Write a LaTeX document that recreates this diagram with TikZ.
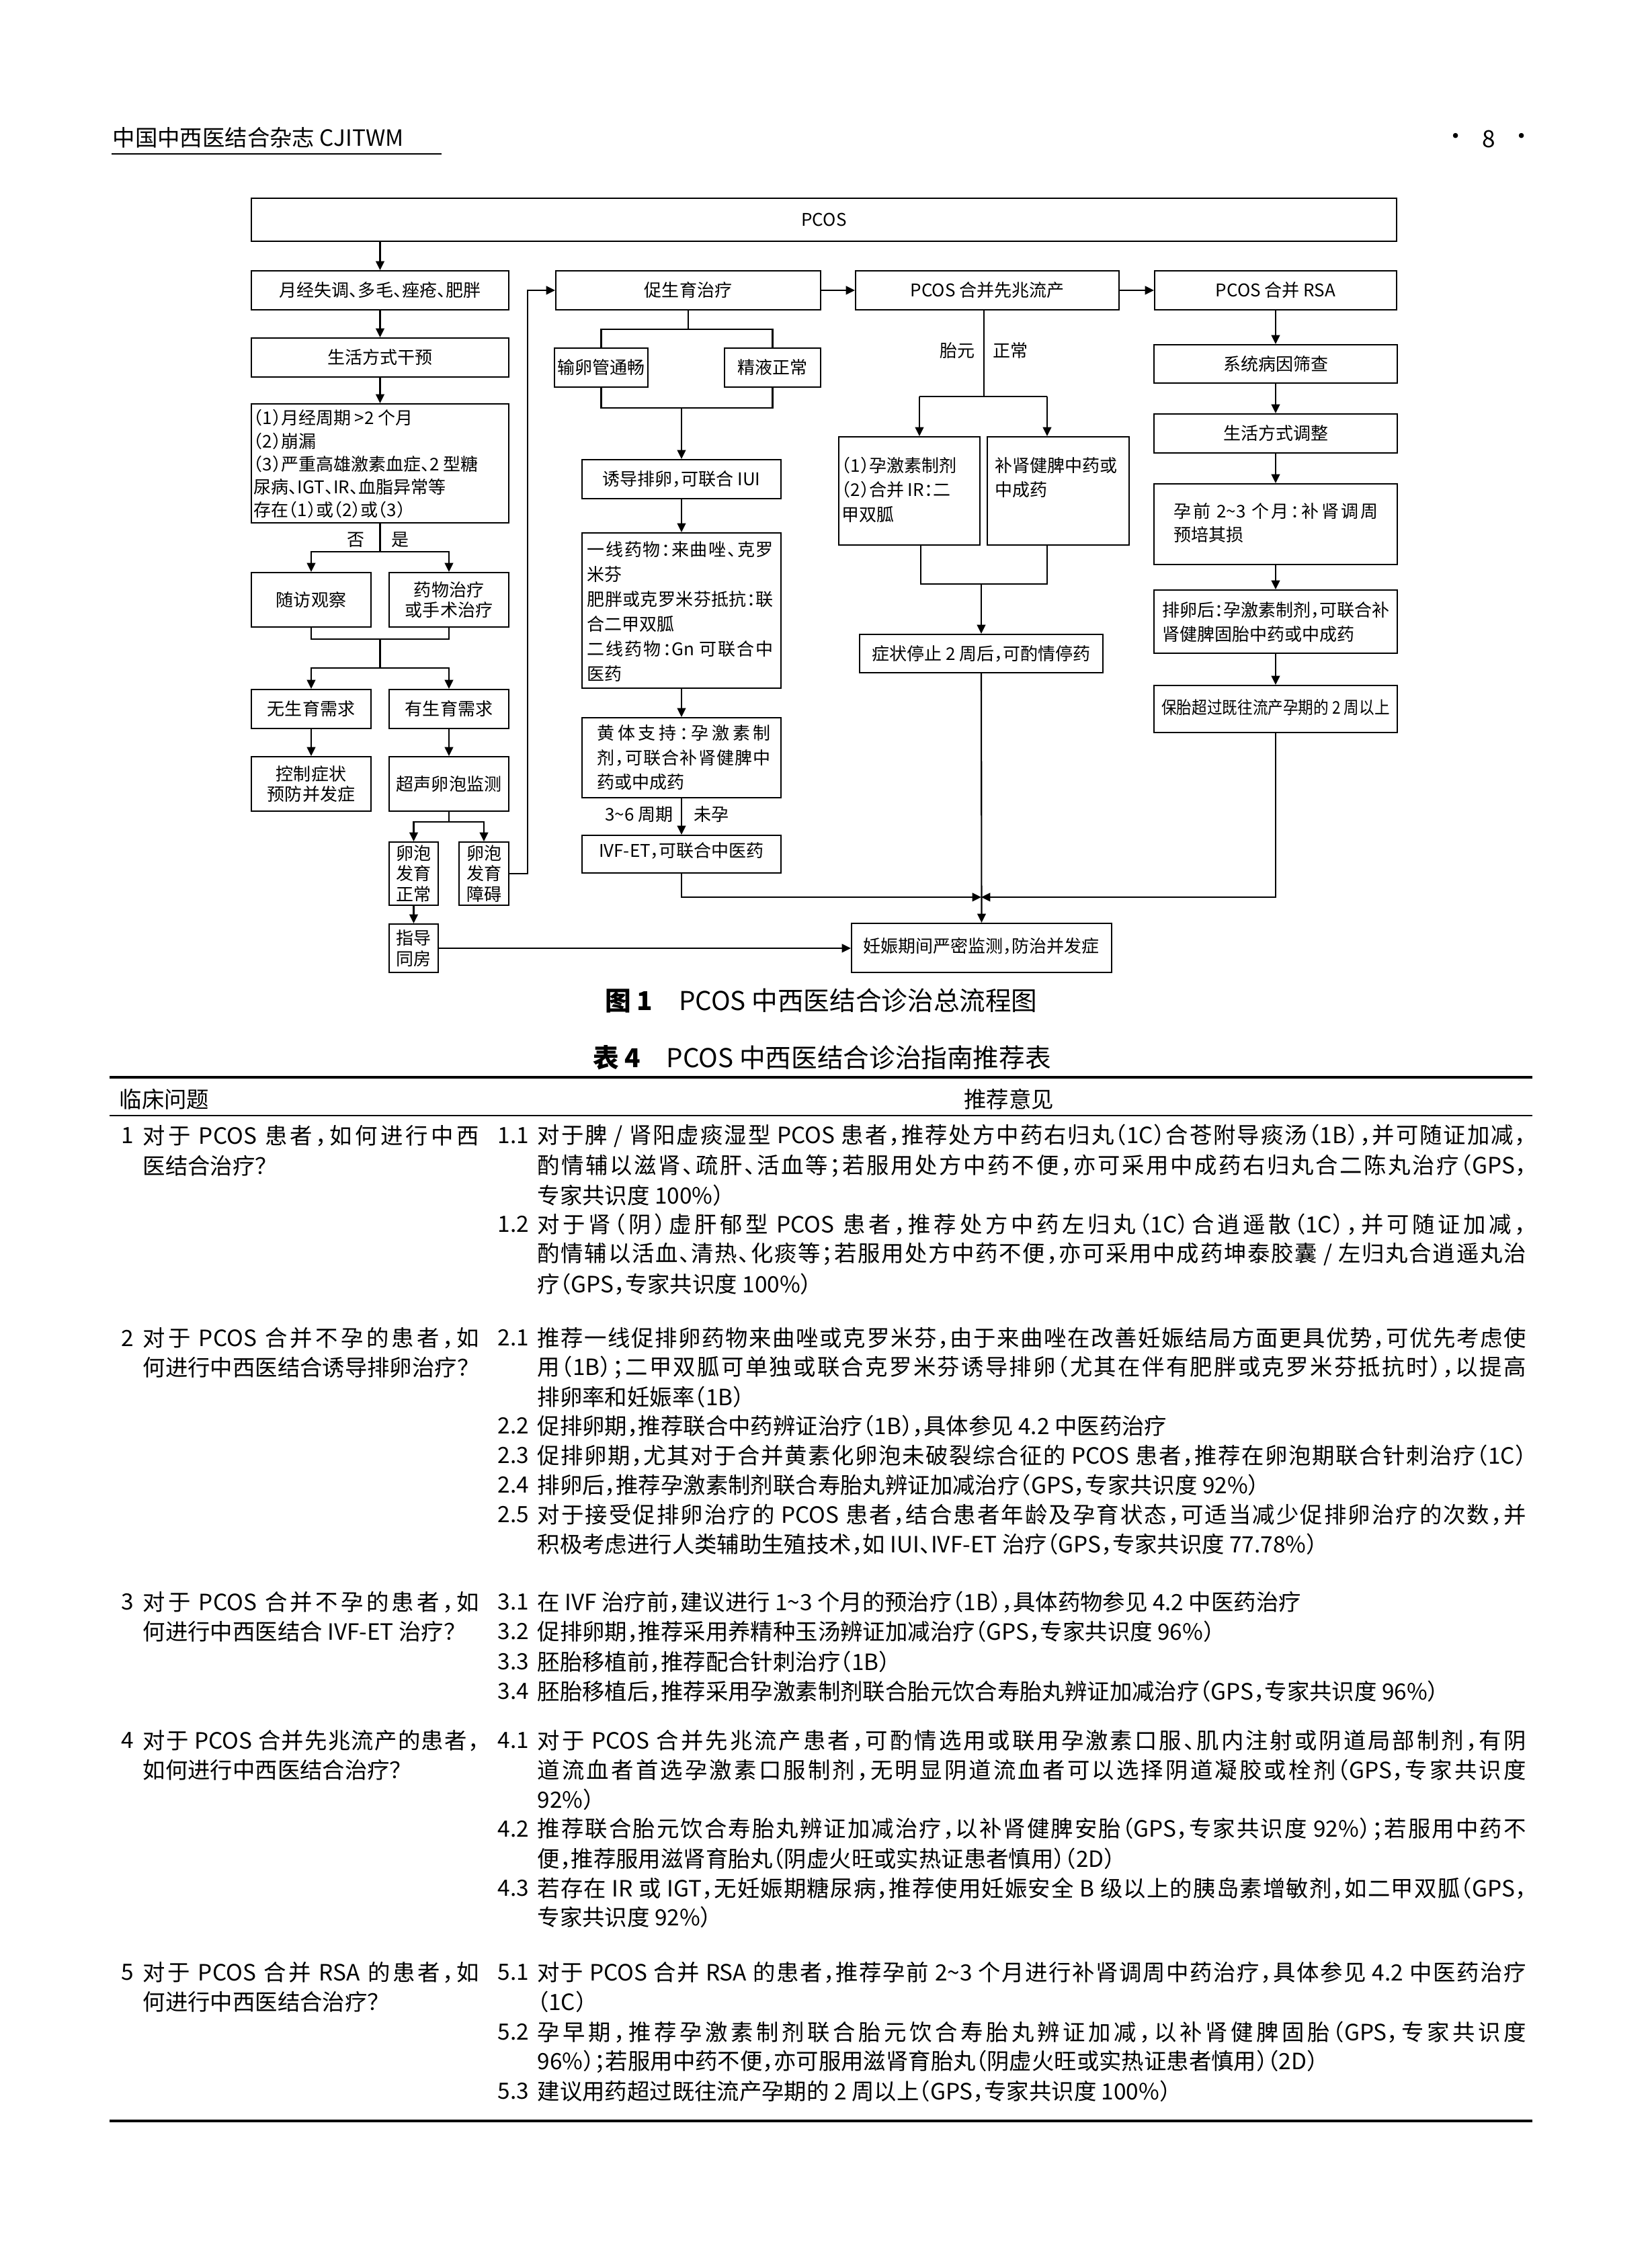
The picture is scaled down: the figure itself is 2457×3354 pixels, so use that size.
\documentclass[tikz,border=0pt]{standalone}
\usepackage{fontspec}
\usepackage{graphicx}
\setmainfont{Noto Sans CJK SC}[RawFeature=+halt]
\usetikzlibrary{arrows.meta}
% inter-character glue between CJK characters (for justified lines)
\ifdefined\newXeTeXintercharclass \newXeTeXintercharclass\cjkcls \else \chardef\cjkcls=7 \fi
\newcount\cjkcc
\def\setcjkrange#1#2{\cjkcc=#1 \loop \XeTeXcharclass\cjkcc=\cjkcls \ifnum\cjkcc<#2 \advance\cjkcc by 1 \repeat}
\setcjkrange{"4E00}{"9FFF}
\setcjkrange{"3000}{"303F}
\setcjkrange{"FF01}{"FF60}
\XeTeXinterchartoks\cjkcls\cjkcls={\hskip 0pt plus 1pt\relax}
\XeTeXinterchartokenstate=1
\newcommand\ffn{\fontsize{7.4pt}{8.7pt}\selectfont}
\newcommand\ffs[1]{\fontsize{7.4pt}{#1pt}\selectfont}
\newcommand\tfn{\fontsize{9.5pt}{12pt}\selectfont}
\newcommand\JW[1]{\makebox[147.1mm][s]{#1}}
\newcommand\JQ[1]{\makebox[50mm][s]{#1}}
\newcommand\JB[2]{\makebox[#1][s]{#2}}
\newcommand\tl{\textasciitilde}
\tikzset{
  box/.style={draw=black, line width=0.6pt, inner sep=0pt, align=center, font=\ffn},
  ln/.style={draw=black, line width=0.6pt},
  arr/.style={ln, -{Triangle[length=3.8pt,width=3.6pt]}},
  tx/.style={inner sep=0pt, font=\ffn},
  tt/.style={inner sep=0pt, anchor=west, font=\tfn},
}
\newcommand\B[6]{\node[box,minimum width={(#4-#2)*0.1mm},minimum height={(#5-#3)*0.1mm}] (#1) at ({(#2+#4)/2},{(#3+#5)/2}) {#6};}
\begin{document}
\begin{tikzpicture}[x=0.1mm,y=-0.1mm]
\fill[white] (0,0) rectangle (2457,3354);
\useasboundingbox (0,0) rectangle (2457,3354);

% ---------- page header ----------
\node[anchor=west,inner sep=0pt,font=\fontsize{9.5pt}{11pt}\selectfont] (hdr) at (167,205) {中国中西医结合杂志 CJITWM};
\draw[line width=0.5pt] (166,229) -- (657,229);
\node[inner sep=0pt,font=\fontsize{10pt}{12pt}\selectfont] (pd1) at (2166,207) {·};
\node[inner sep=0pt,font=\fontsize{10pt}{12pt}\selectfont] (pno) at (2215,207) {8};
\node[inner sep=0pt,font=\fontsize{10pt}{12pt}\selectfont] (pd2) at (2264,207) {·};

% ---------- flowchart boxes ----------
\B{pcos}{374}{295}{2078}{359}{PCOS}
\B{m1}{374}{403}{757}{461}{月经失调、多毛、痤疮、肥胖}
\B{m2}{374}{503}{757}{561}{生活方式干预}
\B{cond}{374}{601}{757}{778}{}
\B{sf}{374}{852}{552}{933}{随访观察}
\B{yw}{579}{852}{757}{933}{药物治疗\\或手术治疗}
\B{wu}{374}{1026}{552}{1084}{无生育需求}
\B{you}{579}{1026}{757}{1084}{有生育需求}
\B{kz}{374}{1126}{552}{1207}{控制症状\\预防并发症}
\B{cs}{579}{1126}{757}{1207}{超声卵泡监测}
\B{zc}{579}{1253}{652}{1347}{卵泡\\发育\\正常}
\B{za}{683}{1253}{757}{1347}{卵泡\\发育\\障碍}
\B{zd}{579}{1375}{652}{1447}{指导\\同房}
\B{cy}{827}{403}{1221}{461}{促生育治疗}
\B{sl}{825}{518}{964}{576}{输卵管通畅}
\B{jy}{1078}{518}{1221}{576}{精液正常}
\B{yd}{866}{684}{1162}{742}{诱导排卵，可联合 IUI}
\B{yx}{866}{793}{1162}{1024}{}
\B{ht}{866}{1068}{1162}{1187}{}
\B{ivf}{866}{1243}{1162}{1299}{}
\B{xz}{1273}{403}{1665}{461}{PCOS 合并先兆流产}
\B{rsa}{1718}{403}{2078}{461}{PCOS 合并 RSA}
\B{p1}{1248}{650}{1458}{811}{}
\B{p2}{1469}{650}{1680}{811}{}
\B{zz}{1279}{944}{1641}{1001}{症状停止 2 周后，可酌情停药}
\B{r1}{1717}{513}{2079}{570}{系统病因筛查}
\B{r2}{1717}{616}{2079}{674}{生活方式调整}
\B{r3}{1717}{720}{2079}{840}{}
\B{r4}{1717}{878}{2079}{972}{}
\B{r5}{1717}{1020}{2079}{1090}{}
\B{rs}{1267}{1374}{1654}{1447}{}

% ---------- texts placed inside boxes ----------
\node[tx,anchor=west,align=left,font=\ffs{9.76}] (tcond) at (377,690.5) {（1）月经周期 >2 个月\\（2）崩漏\\（3）严重高雄激素血症、2 型糖\\尿病、IGT、IR、血脂异常等\\存在（1）或（2）或（3）};
\node[tx,anchor=west,align=left,font=\ffs{10.53}] (tyx) at (873,910) {\JB{27.7mm}{一线药物：来曲唑、克罗}\\米芬\\\JB{27.7mm}{肥胖或克罗米芬抵抗：联}\\合二甲双胍\\\JB{27.7mm}{二线药物：Gn 可联合中}\\医药};
\node[tx,anchor=west,align=left,font=\ffs{10.4}] (tht) at (888,1127.5) {\JB{25.8mm}{黄体支持：孕激素制}\\\JB{25.8mm}{剂，可联合补肾健脾中}\\药或中成药};
\node[tx] (tivf) at (1014,1266) {IVF-ET，可联合中医药};
\node[tx,anchor=west,align=left,font=\ffs{10.4}] (tp1) at (1252,728.5) {（1）孕激素制剂\\（2）合并 IR：二\\甲双胍};
\node[tx,anchor=west,align=left,font=\ffs{10.4}] (tp2) at (1480,710.5) {补肾健脾中药或\\中成药};
\node[tx,anchor=west,align=left,font=\ffs{9.96}] (tr3) at (1746,778.5) {\JB{30.4mm}{孕前 2\tl 3 个月：补肾调周}\\预培其损};
\node[tx,anchor=west,align=left,font=\ffs{10.25}] (tr4) at (1729,926) {\JB{33.6mm}{排卵后：孕激素制剂，可联合补}\\肾健脾固胎中药或中成药};
\node[tx] (tr5) at (1898,1053) {\scalebox{0.87}[1]{保胎超过既往流产孕期的 2 周以上}};
\node[tx] (trs) at (1460,1408) {妊娠期间严密监测，防治并发症};

% ---------- connectors: left column ----------
\draw[arr] (pcos.south -| m1.north) -- (m1.north);
\draw[arr] (m1.south) -- (m2.north);
\draw[arr] (m2.south) -- (cond.north);
\coordinate (j1) at (565.5,821);
\draw[ln] (cond.south) -- (j1);
\draw[arr] (j1) -| (sf.north);
\draw[arr] (j1) -| (yw.north);
\node[tx,anchor=east] (lno) at (543,803) {否};
\node[tx,anchor=west] (lyes) at (582,803) {是};
\coordinate (j2) at (565.5,951);
\coordinate (j3) at (565.5,994);
\draw[ln] (sf.south) |- (j2) -| (yw.south);
\draw[ln] (j2) -- (j3);
\draw[arr] (j3) -| (wu.north);
\draw[arr] (j3) -| (you.north);
\draw[arr] (wu.south) -- (kz.north);
\draw[arr] (you.south) -- (cs.north);
\coordinate (j4) at (668,1223);
\draw[ln] (cs.south) -- (j4);
\draw[arr] (j4) -| (zc.north);
\draw[arr] (j4) -| (za.north);
\draw[arr] (zc.south) -- (zd.north);
\coordinate (j5) at (785,1300);
\draw[arr] (za.east) -- (j5) |- (cy.west);
\draw[arr] (zd.east) -- (zd.east -| rs.west);

% ---------- connectors: fertility column ----------
\coordinate (j6) at (1024,490);
\draw[ln] (cy.south) -- (j6);
\draw[ln] (j6) -| (sl.north);
\draw[ln] (j6) -| (jy.north);
\coordinate (j7) at (1014,607);
\draw[ln] (sl.south) |- (j7) -| (jy.south);
\draw[arr] (j7) -- (yd.north);
\draw[arr] (yd.south) -- (yx.north);
\draw[arr] (yx.south) -- (ht.north);
\draw[arr] (ht.south) -- (ivf.north);
\node[tx,anchor=east] (l36) at (1002,1212) {3\tl 6 周期};
\node[tx,anchor=west] (lwy) at (1032,1212) {未孕};
\coordinate (mg) at (1460,1335);
\draw[arr] (ivf.south) |- (mg);

% ---------- top row arrows ----------
\draw[arr] (cy.east) -- (xz.west);
\draw[arr] (xz.east) -- (rsa.west);

% ---------- threatened abortion column ----------
\coordinate (j8) at (1464,590);
\draw[ln] (j8 |- xz.south) -- (j8);
\node[tx,anchor=east] (lty) at (1451,522) {胎元};
\node[tx,anchor=west] (lzc) at (1477,522) {正常};
\coordinate (jL) at (1368,590);
\coordinate (jR) at (1558,590);
\draw[ln] (jL) -- (jR);
\draw[arr] (jL) -- (jL |- p1.north);
\draw[arr] (jR) -- (jR |- p2.north);
\coordinate (kL) at (1370,869);
\coordinate (kR) at (1558,869);
\coordinate (kM) at (1460,869);
\draw[ln] (kL |- p1.south) -- (kL) -- (kR) -- (kR |- p2.south);
\draw[arr] (kM) -- (zz.north);
\draw[arr] (zz.south) -- (rs.north);

% ---------- RSA column ----------
\draw[arr] (rsa.south) -- (r1.north);
\draw[arr] (r1.south) -- (r2.north);
\draw[arr] (r2.south) -- (r3.north);
\draw[arr] (r3.south) -- (r4.north);
\draw[arr] (r4.south) -- (r5.north);
\draw[arr] (r5.south) |- (mg);

% ---------- captions ----------
\node[inner sep=0pt,font=\fontsize{11pt}{13pt}\selectfont] (cap1) at (1222,1489) {{\bfseries 图 1}\quad PCOS 中西医结合诊治总流程图};
\node[inner sep=0pt,font=\fontsize{11pt}{13pt}\selectfont] (cap2) at (1223,1574) {{\bfseries 表 4}\quad PCOS 中西医结合诊治指南推荐表};

% ---------- table ----------
\draw[line width=1pt] (163,1603) -- (2280,1603);
\draw[line width=0.5pt] (163,1660) -- (2280,1660);
\draw[line width=1pt] (163,3156) -- (2280,3156);
\node[tt] (h1) at (177,1636) {临床问题};
\node[tt,anchor=center] (h2) at (1501,1636) {推荐意见};

% row 1
\node[tt] at (180,1690) {1};
\node[tt] at (212,1690) {\JQ{对于 PCOS 患者，如何进行中西}};
\node[tt] at (212,1735) {医结合治疗？};
\node[tt] at (740,1690) {1.1};
\node[tt] at (799,1690) {\JW{对于脾 / 肾阳虚痰湿型 PCOS 患者，推荐处方中药右归丸（1C）合苍附导痰汤（1B），并可随证加减，}};
\node[tt] at (799,1735) {\JW{酌情辅以滋肾、疏肝、活血等；若服用处方中药不便，亦可采用中成药右归丸合二陈丸治疗（GPS，}};
\node[tt] at (799,1779) {专家共识度 100\%）};
\node[tt] at (740,1822) {1.2};
\node[tt] at (799,1822) {\JW{对于肾（阴）虚肝郁型 PCOS 患者，推荐处方中药左归丸（1C）合逍遥散（1C），并可随证加减，}};
\node[tt] at (799,1866) {\JW{酌情辅以活血、清热、化痰等；若服用处方中药不便，亦可采用中成药坤泰胶囊 / 左归丸合逍遥丸治}};
\node[tt] at (799,1911) {疗（GPS，专家共识度 100\%）};

% row 2
\node[tt] at (180,1991) {2};
\node[tt] at (212,1991) {\JQ{对于 PCOS 合并不孕的患者，如}};
\node[tt] at (212,2035) {何进行中西医结合诱导排卵治疗？};
\node[tt] at (740,1991) {2.1};
\node[tt] at (799,1991) {\JW{推荐一线促排卵药物来曲唑或克罗米芬，由于来曲唑在改善妊娠结局方面更具优势，可优先考虑使}};
\node[tt] at (799,2035) {\JW{用（1B）；二甲双胍可单独或联合克罗米芬诱导排卵（尤其在伴有肥胖或克罗米芬抵抗时），以提高}};
\node[tt] at (799,2079) {排卵率和妊娠率（1B）};
\node[tt] at (740,2122) {2.2};
\node[tt] at (799,2122) {促排卵期，推荐联合中药辨证治疗（1B），具体参见 4.2 中医药治疗};
\node[tt] at (740,2166) {2.3};
\node[tt] at (799,2166) {\JW{促排卵期，尤其对于合并黄素化卵泡未破裂综合征的 PCOS 患者，推荐在卵泡期联合针刺治疗（1C）}};
\node[tt] at (740,2210) {2.4};
\node[tt] at (799,2210) {排卵后，推荐孕激素制剂联合寿胎丸辨证加减治疗（GPS，专家共识度 92\%）};
\node[tt] at (740,2254) {2.5};
\node[tt] at (799,2254) {\JW{对于接受促排卵治疗的 PCOS 患者，结合患者年龄及孕育状态，可适当减少促排卵治疗的次数，并}};
\node[tt] at (799,2298) {积极考虑进行人类辅助生殖技术，如 IUI、IVF-ET 治疗（GPS，专家共识度 77.78\%）};

% row 3
\node[tt] at (180,2384) {3};
\node[tt] at (212,2384) {\JQ{对于 PCOS 合并不孕的患者，如}};
\node[tt] at (212,2428) {何进行中西医结合 IVF-ET 治疗？};
\node[tt] at (740,2384) {3.1};
\node[tt] at (799,2384) {在 IVF 治疗前，建议进行 1\tl 3 个月的预治疗（1B），具体药物参见 4.2 中医药治疗};
\node[tt] at (740,2428) {3.2};
\node[tt] at (799,2428) {促排卵期，推荐采用养精种玉汤辨证加减治疗（GPS，专家共识度 96\%）};
\node[tt] at (740,2473) {3.3};
\node[tt] at (799,2473) {胚胎移植前，推荐配合针刺治疗（1B）};
\node[tt] at (740,2517) {3.4};
\node[tt] at (799,2517) {胚胎移植后，推荐采用孕激素制剂联合胎元饮合寿胎丸辨证加减治疗（GPS，专家共识度 96\%）};

% row 4
\node[tt] at (180,2590) {4};
\node[tt] at (212,2590) {\JQ{对于 PCOS 合并先兆流产的患者，}};
\node[tt] at (212,2634) {如何进行中西医结合治疗？};
\node[tt] at (740,2590) {4.1};
\node[tt] at (799,2590) {\JW{对于 PCOS 合并先兆流产患者，可酌情选用或联用孕激素口服、肌内注射或阴道局部制剂，有阴}};
\node[tt] at (799,2634) {\JW{道流血者首选孕激素口服制剂，无明显阴道流血者可以选择阴道凝胶或栓剂（GPS，专家共识度}};
\node[tt] at (799,2678) {92\%）};
\node[tt] at (740,2722) {4.2};
\node[tt] at (799,2722) {\JW{推荐联合胎元饮合寿胎丸辨证加减治疗，以补肾健脾安胎（GPS，专家共识度 92\%）；若服用中药不}};
\node[tt] at (799,2766) {便，推荐服用滋肾育胎丸（阴虚火旺或实热证患者慎用）（2D）};
\node[tt] at (740,2810) {4.3};
\node[tt] at (799,2810) {\JW{若存在 IR 或 IGT，无妊娠期糖尿病，推荐使用妊娠安全 B 级以上的胰岛素增敏剂，如二甲双胍（GPS，}};
\node[tt] at (799,2853) {专家共识度 92\%）};

% row 5
\node[tt] at (180,2935) {5};
\node[tt] at (212,2935) {\JQ{对于 PCOS 合并 RSA 的患者，如}};
\node[tt] at (212,2979) {何进行中西医结合治疗？};
\node[tt] at (740,2935) {5.1};
\node[tt] at (799,2935) {\JW{对于 PCOS 合并 RSA 的患者，推荐孕前 2\tl 3 个月进行补肾调周中药治疗，具体参见 4.2 中医药治疗}};
\node[tt] at (799,2979) {（1C）};
\node[tt] at (740,3024) {5.2};
\node[tt] at (799,3024) {\JW{孕早期，推荐孕激素制剂联合胎元饮合寿胎丸辨证加减，以补肾健脾固胎（GPS，专家共识度}};
\node[tt] at (799,3068) {96\%）；若服用中药不便，亦可服用滋肾育胎丸（阴虚火旺或实热证患者慎用）（2D）};
\node[tt] at (740,3112) {5.3};
\node[tt] at (799,3112) {建议用药超过既往流产孕期的 2 周以上（GPS，专家共识度 100\%）};
\end{tikzpicture}
\end{document}
